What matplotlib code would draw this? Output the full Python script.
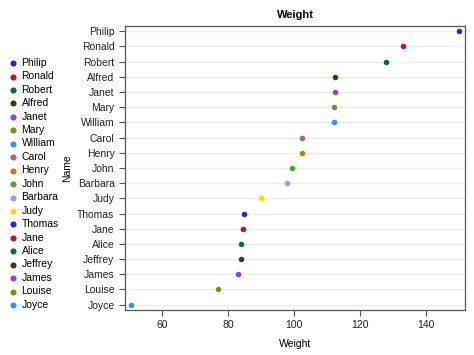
import matplotlib.pyplot as plt

plt.rcParams['font.family'] = ['Liberation Sans', 'DejaVu Sans']

names = ['Philip', 'Ronald', 'Robert', 'Alfred', 'Janet', 'Mary', 'William',
         'Carol', 'Henry', 'John', 'Barbara', 'Judy', 'Thomas', 'Jane',
         'Alice', 'Jeffrey', 'James', 'Louise', 'Joyce']
weights = [150, 133, 128, 112.5, 112.5, 112, 112, 102.5, 102.5, 99.5, 98,
           90, 85, 84.5, 84, 84, 83, 77, 50.5]
palette = ['#2A25D9', '#B2182B', '#01665E', '#543005', '#9D3CDB', '#7F8E1F',
           '#2597FA', '#B26084', '#D17800', '#47A82A', '#B38EF3', '#F9DA04']

fig = plt.figure(figsize=(4.74, 3.55), dpi=100)
ax = fig.add_axes([0.2637, 0.1268, 0.7173, 0.80])

n = len(names)
for i, (nm, w) in enumerate(zip(names, weights)):
    ax.scatter(w, n - 1 - i, s=16, color=palette[i % len(palette)],
               label=nm, zorder=3, linewidths=0)

ax.set_yticks(range(n))
ax.set_yticklabels(names[::-1])
ax.set_ylim(-0.35, n - 1 + 0.35)
ax.set_xlim(48.8, 151.8)
ax.set_xticks([60, 80, 100, 120, 140])
ax.grid(axis='y', color='#ececec', linewidth=0.9, zorder=0)
ax.set_axisbelow(True)
for sp in ax.spines.values():
    sp.set_color('#555555')
    sp.set_linewidth(0.9)
ax.tick_params(labelsize=7.5, color='#555555', length=4, width=0.8,
               labelcolor='#222222')
ax.set_title('Weight', fontsize=8, fontweight='bold', pad=6)
ax.set_xlabel('Weight', fontsize=7.5, labelpad=6)
ax.set_ylabel('Name', fontsize=7.5, labelpad=4)

fig.legend(loc='upper left', bbox_to_anchor=(0.017, 0.837), frameon=False,
           fontsize=7.5, labelspacing=0.33, handletextpad=0.3,
           borderpad=0, borderaxespad=0, handlelength=1.0, markerscale=1.1)

fig.savefig('out.png', dpi=100)
